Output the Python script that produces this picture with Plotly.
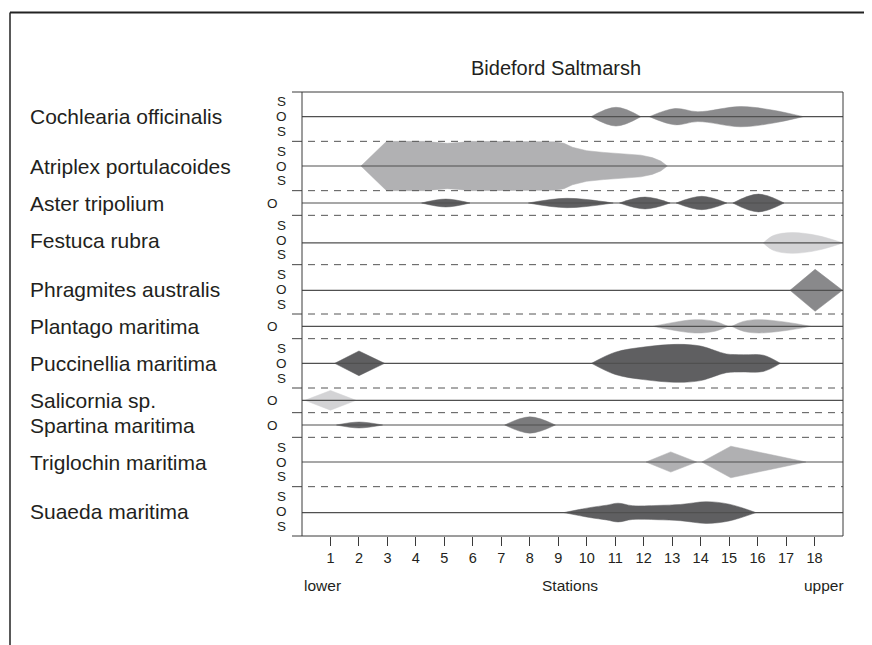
import plotly.graph_objects as go

# ---------------- data ----------------
species = ["Cochlearia officinalis", "Atriplex portulacoides", "Aster tripolium",
           "Festuca rubra", "Phragmites australis", "Plantago maritima",
           "Puccinellia maritima", "Salicornia sp.", "Spartina maritima",
           "Triglochin maritima", "Suaeda maritima"]
band_units = [2, 2, 1, 2, 2, 1, 2, 1, 1, 2, 2]          # S-O-S bands = 2, O bands = 1
stations = list(range(1, 19))
station_labels = [str(s) for s in stations]

# kite outlines: station positions and half-widths (abundance units)
cochlearia_x = [[10.15, 11.03, 11.9], [12.2, 13.1, 13.9, 15.4, 16.5, 17.6]]
cochlearia_h = [[0, 0.38, 0], [0, 0.33, 0.2, 0.41, 0.27, 0]]

atriplex_x = [[2.07, 2.97, 4.3, 4.7, 5.1, 5.5, 5.95, 8.9, 9.2, 9.5, 10.0, 10.6, 11.3, 11.9, 12.3, 12.6, 12.83]]
atriplex_h = [[0, 1.0, 1.0, 0.95, 0.92, 0.95, 1.0, 0.98, 0.92, 0.76, 0.62, 0.55, 0.5, 0.44, 0.34, 0.2, 0]]

aster_x = [[4.2, 5.05, 5.9], [7.95, 9.3, 10.93], [11.15, 12.05, 12.93], [13.14, 14.04, 14.92], [15.13, 16.03, 16.93]]
aster_h = [[0, 0.16, 0], [0, 0.19, 0], [0, 0.24, 0], [0, 0.27, 0], [0, 0.36, 0]]

festuca_x = [[16.2, 16.55, 17.2, 18.1, 19.0]]
festuca_h = [[0, 0.3, 0.42, 0.3, 0]]

phragmites_x = [[17.14, 18.02, 18.98]]
phragmites_h = [[0, 0.85, 0]]

plantago_x = [[12.33, 13.0, 13.8, 14.5, 14.96], [15.09, 15.5, 16.05, 17.0, 17.86]]
plantago_h = [[0, 0.15, 0.27, 0.2, 0], [0, 0.2, 0.27, 0.17, 0]]

puccinellia_x = [[1.15, 2.0, 2.9], [10.17, 11.0, 12.0, 13.2, 14.0, 14.5, 14.9, 15.5, 16.2, 16.8]]
puccinellia_h = [[0, 0.5, 0], [0, 0.45, 0.66, 0.77, 0.7, 0.52, 0.38, 0.35, 0.33, 0]]

salicornia_x = [[0.1, 1.0, 1.9]]
salicornia_h = [[0, 0.4, 0]]

spartina_x = [[1.21, 2.0, 2.83], [7.12, 8.0, 8.9]]
spartina_h = [[0, 0.12, 0], [0, 0.33, 0]]

triglochin_x = [[12.08, 12.95, 13.86], [14.04, 15.06, 17.7]]
triglochin_h = [[0, 0.41, 0], [0, 0.64, 0]]

suaeda_x = [[9.2, 10.1, 10.7, 11.1, 11.6, 12.5, 13.3, 14.2, 15.0, 15.94]]
suaeda_h = [[0, 0.2, 0.3, 0.38, 0.28, 0.29, 0.33, 0.44, 0.34, 0]]

kite_x = [cochlearia_x, atriplex_x, aster_x, festuca_x, phragmites_x, plantago_x,
          puccinellia_x, salicornia_x, spartina_x, triglochin_x, suaeda_x]
kite_h = [cochlearia_h, atriplex_h, aster_h, festuca_h, phragmites_h, plantago_h,
          puccinellia_h, salicornia_h, spartina_h, triglochin_h, suaeda_h]

# ---------------- styles ----------------
kite_colors = [["#8b8b8d", "#8b8b8d"], ["#b1b1b3"], ["#5f5f61"] * 5, ["#d3d3d5"], ["#89898b"],
               ["#acacae", "#acacae"], ["#5f5f61", "#5f5f61"], ["#d3d3d5"], ["#6a6a6c", "#7b7b7d"],
               ["#b0b0b2", "#b0b0b2"], ["#5f5f61"]]
kite_shapes = [["spline", "spline"], ["linear"], ["spline"] * 5, ["spline"], ["linear"],
               ["spline", "spline"], ["linear", "spline"], ["linear"], ["spline", "spline"],
               ["linear", "linear"], ["spline"]]
center_shift = [0, 0, 0, 0.12, 0.04, 0, 0, 0, 0, 0, 0.05]

TXT = "#231f20"
FONT = "Liberation Sans, Arial, Helvetica, sans-serif"
OFF = 8                      # page body margin
W, H = 872 - OFF, 645 - OFF
# plot box in page pixels
PL, PR, PT, PB = 302, 843, 92.3, 535.7


def px_x(p):
    return (p - PL) / (PR - PL)


def px_y(p):
    return (PB - p) / (PB - PT)


total = sum(band_units)
tops = []
acc = 0
for u in band_units:
    tops.append(acc)
    acc += u
centers = [t + u / 2 + s for t, u, s in zip(tops, band_units, center_shift)]

fig = go.Figure()
for i in range(len(species)):
    c = centers[i]
    for xs, hs, col, shp in zip(kite_x[i], kite_h[i], kite_colors[i], kite_shapes[i]):
        fig.add_trace(go.Scatter(x=xs, y=[c - h for h in hs], mode="lines",
                                 line=dict(color=col, width=0.5, shape=shp),
                                 hoverinfo="skip", showlegend=False))
        fig.add_trace(go.Scatter(x=xs, y=[c + h for h in hs], mode="lines",
                                 line=dict(color=col, width=0.5, shape=shp),
                                 fill="tonexty", fillcolor=col,
                                 hoverinfo="skip", showlegend=False))

shapes = []
LINE = "#3a3a3a"
tick_left = px_x(PL - 10)
for c in centers:
    shapes.append(dict(type="line", xref="paper", yref="y", x0=0, x1=1, y0=c, y1=c,
                       line=dict(color="#505050", width=1.2), layer="above"))
for t in tops[1:]:
    yp = 1 - t / total
    shapes.append(dict(type="line", xref="paper", yref="paper", x0=tick_left, x1=0, y0=yp, y1=yp,
                       line=dict(color="#444", width=1)))
    shapes.append(dict(type="line", xref="paper", yref="paper", x0=px_x(PL + 6), x1=1, y0=yp, y1=yp,
                       line=dict(color="#555", width=1, dash="7px,6px")))
shapes.append(dict(type="line", xref="paper", yref="paper", x0=tick_left, x1=1, y0=1, y1=1,
                   line=dict(color=LINE, width=1)))
shapes.append(dict(type="line", xref="paper", yref="paper", x0=tick_left, x1=1, y0=0, y1=0,
                   line=dict(color=LINE, width=1)))
shapes.append(dict(type="line", xref="paper", yref="paper", x0=0, x1=0, y0=0, y1=1,
                   line=dict(color=LINE, width=1)))
shapes.append(dict(type="line", xref="paper", yref="paper", x0=1, x1=1, y0=0, y1=1,
                   line=dict(color=LINE, width=1)))
# outer frame (top and left)
shapes.append(dict(type="line", xref="paper", yref="paper", x0=px_x(10), x1=px_x(880),
                   y0=px_y(13), y1=px_y(13), line=dict(color="#222", width=2)))
shapes.append(dict(type="line", xref="paper", yref="paper", x0=px_x(10), x1=px_x(10),
                   y0=px_y(13), y1=px_y(660), line=dict(color="#222", width=1.5)))

ann = []
for i, name in enumerate(species):
    c = tops[i] + band_units[i] / 2
    ann.append(dict(text=name, xref="paper", yref="y", x=px_x(29), y=c, xanchor="left",
                    yanchor="middle", showarrow=False, borderpad=0,
                    font=dict(size=21, color=TXT, family=FONT)))
    if band_units[i] == 2:
        for lab, dy in (("S", -0.6), ("O", 0.0), ("S", 0.6)):
            ann.append(dict(text=lab, xref="paper", yref="y", x=px_x(281), y=c + dy,
                            xanchor="center", yanchor="middle", showarrow=False, borderpad=0,
                            font=dict(size=13.5, color=TXT, family=FONT)))
    else:
        ann.append(dict(text="O", xref="paper", yref="y", x=px_x(272), y=c,
                        xanchor="center", yanchor="middle", showarrow=False, borderpad=0,
                        font=dict(size=13.5, color=TXT, family=FONT)))

ann.append(dict(text="Bideford Saltmarsh", xref="paper", yref="paper", x=px_x(556), y=px_y(68),
                xanchor="center", yanchor="middle", showarrow=False, borderpad=0,
                font=dict(size=20, color=TXT, family=FONT)))
for txt, xx, anc in (("lower", 303, "left"), ("Stations", 570, "center"), ("upper", 845, "right")):
    ann.append(dict(text=txt, xref="paper", yref="paper", x=px_x(xx), y=px_y(585),
                    xanchor=anc, yanchor="middle", showarrow=False, borderpad=0,
                    font=dict(size=15.5, color=TXT, family=FONT)))

fig.update_layout(
    width=W, height=H,
    margin=dict(l=PL - OFF, r=W - (PR - OFF), t=PT - OFF, b=H - (PB - OFF), pad=0),
    paper_bgcolor="white", plot_bgcolor="white",
    showlegend=False,
    shapes=shapes, annotations=ann,
    font=dict(family=FONT, color=TXT),
    xaxis=dict(range=[0, 19], tickmode="array", tickvals=stations, ticktext=station_labels,
               ticks="outside", ticklen=9, tickwidth=1, tickcolor=LINE,
               showgrid=False, zeroline=False, showline=False,
               tickfont=dict(size=14.5, color=TXT, family=FONT), fixedrange=True),
    yaxis=dict(range=[total, 0], visible=False, showgrid=False, zeroline=False, fixedrange=True),
)

fig.write_html("out.html")
